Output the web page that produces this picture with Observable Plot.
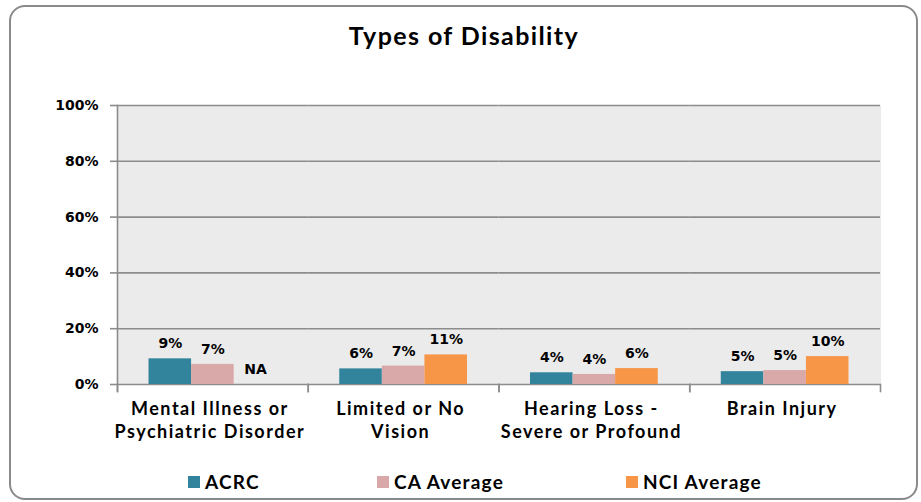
<!DOCTYPE html>
<html><head><meta charset="utf-8">
<script src="https://cdn.jsdelivr.net/npm/d3@7"></script>
<script src="https://cdn.jsdelivr.net/npm/@observablehq/plot@0.6"></script>
<style>
body{margin:0;background:#fff;}
#wrap{position:relative;width:921px;height:502px;overflow:hidden;}
#border{position:absolute;left:9px;top:5px;width:905px;height:491px;border:2px solid #8a8a8a;border-radius:16px;}
#title{position:absolute;left:10px;width:908px;top:20px;text-align:center;font:bold 25px Lato;letter-spacing:1.4px;color:#000;line-height:30px;}
#chart{position:absolute;left:0;top:0;}
#chart g[aria-label="fx-axis tick label"] text{letter-spacing:1.5px;}
.leg{position:absolute;top:472px;display:flex;align-items:center;font:bold 19px Lato;letter-spacing:1.2px;color:#000;line-height:20px;}
.leg span.sw{display:inline-block;width:12px;height:12px;margin-right:5px;}
</style></head>
<body>
<div id="wrap">
  <div id="border"></div>
  <div id="title">Types of Disability</div>
  <div id="chart"></div>
</div>
<script>
const categories = ["Mental Illness or Psychiatric Disorder", "Limited or No Vision", "Hearing Loss - Severe or Profound", "Brain Injury"];
const categoryLabels = ["Mental Illness or\nPsychiatric Disorder", "Limited or No\nVision", "Hearing Loss -\nSevere or Profound", "Brain Injury"];
const series = ["ACRC", "CA Average", "NCI Average"];
const acrc = [9.2, 5.6, 4.2, 4.6];
const caAverage = [7.2, 6.6, 3.6, 5.0];
const nciAverage = [null, 10.6, 5.7, 10.0];
const colors = ["#31849b", "#d9a9a9", "#f79646"];
const yTicks = [0, 20, 40, 60, 80, 100];

const valuesBySeries = [acrc, caAverage, nciAverage];
const data = [];
categories.forEach((c, i) => series.forEach((s, j) => data.push({category: c, series: s, value: valuesBySeries[j][i]})));

const grid = "#8c8c8c";
const chart = Plot.plot({
  width: 921, height: 502,
  marginLeft: 117, marginRight: 41, marginTop: 105, marginBottom: 118,
  style: {background: "transparent", overflow: "visible"},
  fx: {domain: categories, padding: 0, label: null, axis: null, round: false},
  x: {domain: series, paddingInner: 0, paddingOuter: 0.74, axis: null, round: false},
  y: {domain: [0, 100], axis: null},
  color: {domain: series, range: colors},
  marks: [
    Plot.frame({fill: "#ebebeb", stroke: null, insetLeft: -0.6, insetRight: -0.6}),
    Plot.ruleY(yTicks, {stroke: grid, strokeWidth: 1.6}),
    Plot.barY(data.filter(d => d.value != null), {fx: "category", x: "series", y: "value", fill: "series"}),
    Plot.text(data, {fx: "category", x: "series", y: d => d.value ?? 0,
      text: d => d.value == null ? "NA" : Math.round(d.value) + "%",
      dy: -15, fontSize: 14, fontWeight: "bold", fontFamily: "DejaVu Sans", fill: "#000"}),
    Plot.axisY({ticks: yTicks, tickFormat: d => d + "%", tickSize: 7, tickPadding: 12,
      stroke: grid, strokeWidth: 1.6, fill: "#000", fontSize: 14, fontWeight: "bold", fontFamily: "DejaVu Sans", label: null}),
    Plot.axisFx({anchor: "bottom", tickSize: 0, tickPadding: 14, label: null,
      tickFormat: d => categoryLabels[categories.indexOf(d)],
      fontSize: 18, fontWeight: "bold", fontFamily: "Lato", lineHeight: 1.28, fill: "#000", dx: -3}),
    Plot.frame({anchor: "left", stroke: grid, strokeWidth: 1.6, insetTop: 279, insetBottom: -7}),
    Plot.frame({anchor: "right", stroke: grid, strokeWidth: 1.6, insetTop: 279, insetBottom: -7}),
    Plot.frame({anchor: "left", fx: categories[0], stroke: grid, strokeWidth: 1.6, insetBottom: -7})
  ]
});
document.getElementById("chart").appendChild(chart);

const legendX = [188, 377, 626];
const wrap = document.getElementById("wrap");
series.forEach((s, i) => {
  const d = document.createElement("div");
  d.className = "leg";
  d.style.left = legendX[i] + "px";
  d.innerHTML = `<span class="sw" style="background:${colors[i]}"></span><span>${s}</span>`;
  wrap.appendChild(d);
});
</script>
</body></html>
